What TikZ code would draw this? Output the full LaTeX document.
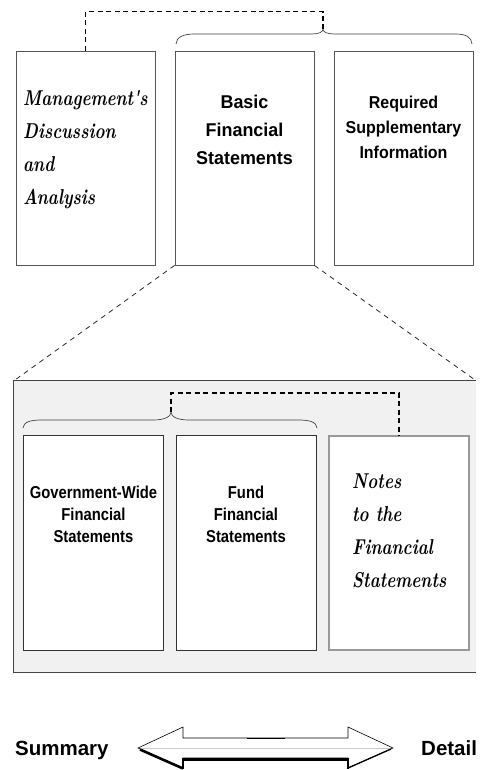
\documentclass[tikz,border=0pt]{standalone}
\usepackage{fontspec}
\newfontfamily\hvA[FakeStretch=0.97]{Liberation Sans}
\newfontfamily\hvR[FakeStretch=0.93]{Liberation Sans}
\newfontfamily\hvB[FakeStretch=0.86]{Liberation Sans}
\newfontfamily\hvC{Liberation Sans}
\newfontfamily\scr[FakeStretch=0.79]{Latin Modern Roman}
\definecolor{panelgray}{HTML}{F1F1F1}
\definecolor{boxline}{HTML}{555555}
\definecolor{innerline}{HTML}{333333}
\definecolor{noteline}{HTML}{999999}
\definecolor{bracecol}{HTML}{444444}
\definecolor{panelline}{HTML}{444444}
\begin{document}
\begin{tikzpicture}[x=1pt,y=-1pt,
  box/.style={draw=boxline, line width=0.8pt, fill=white, minimum width=139pt, minimum height=214pt, inner sep=0pt},
  ibox/.style={draw=innerline, line width=0.8pt, fill=white, minimum width=140pt, minimum height=215pt, inner sep=0pt},
  panel/.style={fill=panelgray, draw=none, minimum width=462pt, minimum height=291pt, inner sep=0pt},
  bold1/.style={inner sep=0pt, align=center, anchor=north, font=\hvA\bfseries\fontsize{18.5}{28}\selectfont},
  bold2/.style={inner sep=0pt, align=center, anchor=north, font=\hvR\bfseries\fontsize{17.2}{25}\selectfont},
  bold3/.style={inner sep=0pt, align=center, anchor=north, font=\hvB\bfseries\fontsize{17.2}{22}\selectfont},
  script/.style={inner sep=0pt, align=left, anchor=north west, font=\scr\bfseries\itshape\fontsize{21.5}{33}\selectfont},
  endlabel/.style={inner sep=0pt, anchor=base west, font=\hvC\bfseries\fontsize{20.5}{24}\selectfont},
  bigdash/.style={draw=black, line width=1.6pt, dash pattern=on 5pt off 3.5pt},
  zoomdash/.style={draw=black!85, line width=0.8pt, dash pattern=on 5pt off 4.5pt},
  bracestyle/.style={draw=bracecol, line width=0.7pt},
]
\useasboundingbox (0,0) rectangle (486,770);

% grey panel
\node[panel] (panel) at (245,526.5) {};
\draw[draw=panelline, line width=1.1pt] (panel.north east) -- (panel.north west) -- (panel.south west) -- (panel.south east);

% top row
\node[box] (mda) at (85.5,158) {};
\node[box] (basic) at (244.5,158) {};
\node[box] (rsi) at (403.5,158) {};

\node[script] (mdat) at (23,90) {Management's\\Discussion\\and\\Analysis};
\node[bold1] (basict) at (244.5,95) {Basic\\Financial\\Statements};
\node[bold2] (rsit) at (403.5,96) {Required\\Supplementary\\Information};

% top brace and dashed link
\coordinate (tbtip) at (323,29);
\draw[bracestyle] (176,44) .. controls (176.5,37) and (183,34) .. (195,34) -- (312,34)
  .. controls (319,34) and (323,32) .. (tbtip)
  .. controls (323,32) and (327,34) .. (334,34) -- (455,34)
  .. controls (466,34) and (471.5,37) .. (472,44);
\draw[bigdash] (mda.north) -- ++(0,-39) -| (tbtip);

% zoom lines
\draw[zoomdash] (basic.south west) -- (panel.north west);
\draw[zoomdash] (basic.south east) -- (panel.north east);

% inner row
\node[ibox] (gov) at (93.5,542.5) {};
\node[ibox] (fund) at (246,542.5) {};
\node[ibox, draw=noteline, line width=1.1pt, minimum height=214pt] (notes) at (399,543) {};

\node[bold3] (govt) at (93.5,486) {Government-Wide\\Financial\\Statements};
\node[bold3] (fundt) at (246,486) {Fund\\Financial\\Statements};
\node[script] (notest) at (352,474) {Notes\\to the\\Financial\\Statements};

% inner brace and dashed link
\coordinate (ibtip) at (171,412);
\draw[bracestyle] (23,428) .. controls (23.5,422) and (30,420) .. (42,420) -- (153,420)
  .. controls (164,420) and (171,417) .. (ibtip)
  .. controls (171,417) and (178,420) .. (189,420) -- (298,420)
  .. controls (310,420) and (316.5,422) .. (317,428);
\draw[bigdash] (ibtip) -- ++(0,-19) -| (notes.north);

% bottom labels
\node[endlabel] (summary) at (15,755) {Summary};
\node[endlabel] (detail) at (421,755) {Detail};

% double arrow
\draw[draw=black, line width=0.6pt, fill=white, line join=miter]
  (138,748) -- (183,727) -- (183,738) -- (348,738) -- (348,727) -- (393,748)
  -- (348,768) -- (348,758) -- (183,758) -- (183,768) -- cycle;
\draw[draw=black!20, line width=0.6pt] (141,748) -- (390,748);
\draw[draw=black, line width=2.6pt, line join=miter] (140,749.5) -- (183,768.5);
\draw[draw=black, line width=1.8pt] (183,768.5) -- (183,759);
\draw[draw=black, line width=1.8pt] (348,768.5) -- (348,759);
\draw[draw=black, line width=3.4pt] (182.1,759.5) -- (348.9,759.5);
\draw[draw=black, line width=1.3pt] (348,768) -- (391,749);
\draw[draw=black, line width=1.5pt] (247,738.3) -- (285,738.3);
\end{tikzpicture}
\end{document}
